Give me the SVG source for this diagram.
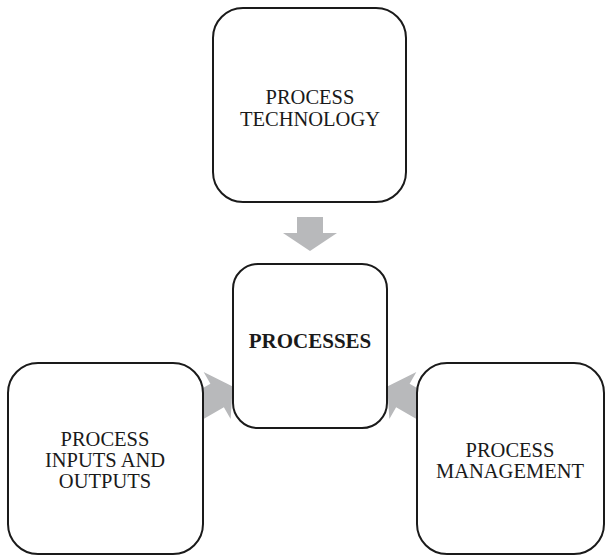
<svg xmlns="http://www.w3.org/2000/svg" width="607" height="557" viewBox="0 0 607 557">
<defs>
<style>
.box{fill:#ffffff;stroke:#1a1a1a;stroke-width:2}
.arr{fill:#b8b9bb;stroke:none}
.t{font-family:"Liberation Serif","Times New Roman",serif;font-size:20.5px;fill:#1a1a1a;text-anchor:middle}
.b{font-weight:bold;font-size:21px}
</style>
<polygon id="blk" points="-32,-13.5 -1,-13.5 -1,-27 17,0 -1,27 -1,13.5 -32,13.5"/>
</defs>
<rect width="607" height="557" fill="#ffffff"/>
<g id="connectors">
<polygon class="arr" points="297,217 323,217 323,233 337,233 310,251 283,233 297,233"/>
<use href="#blk" class="arr" transform="translate(218,395) rotate(-30)"/>
<use href="#blk" class="arr" transform="translate(402,395) rotate(-150)"/>
</g>
<g id="node-technology">
<rect class="box" x="213" y="8" width="193" height="194" rx="30"/>
<text class="t" x="310" y="104">PROCESS</text>
<text class="t" x="310" y="126">TECHNOLOGY</text>
</g>
<g id="node-processes">
<rect class="box" x="233" y="264" width="154" height="164" rx="25"/>
<text class="t b" x="310" y="348">PROCESSES</text>
</g>
<g id="node-inputs">
<rect class="box" x="8" y="363" width="195" height="191" rx="30"/>
<text class="t" x="105" y="446">PROCESS</text>
<text class="t" x="105" y="467">INPUTS AND</text>
<text class="t" x="105" y="488">OUTPUTS</text>
</g>
<g id="node-management">
<rect class="box" x="417" y="363" width="187" height="191" rx="30"/>
<text class="t" x="510" y="457">PROCESS</text>
<text class="t" x="510" y="478">MANAGEMENT</text>
</g>
</svg>
